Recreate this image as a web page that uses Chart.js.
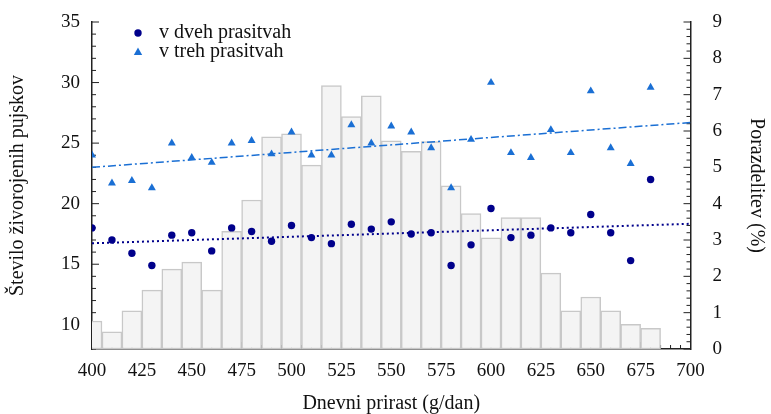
<!DOCTYPE html>
<html>
<head>
<meta charset="utf-8">
<script src="https://cdn.jsdelivr.net/npm/chart.js@4"></script>
<style>
  html, body { margin: 0; padding: 0; background: #fff; }
  #wrap { width: 771px; height: 414px; }
</style>
</head>
<body>
<div id="wrap"><canvas id="mainChart"></canvas></div>
<script>
// daily gain classes (g/dan)
const growth = [400, 410, 420, 430, 440, 450, 460, 470, 480, 490, 500, 510, 520, 530, 540,
                550, 560, 570, 580, 590, 600, 610, 620, 630, 640, 650, 660, 670, 680];

// distribution (%) - right axis
const distribution = [0.77, 0.47, 1.05, 1.62, 2.20, 2.39, 1.62, 3.24, 4.10, 5.84, 5.92, 5.06, 7.25, 6.40, 6.97,
                      5.73, 5.44, 5.71, 4.49, 3.73, 3.06, 3.62, 3.62, 2.09, 1.05, 1.43, 1.05, 0.68, 0.57];

// live born piglets - left axis
const twoParities = [18.0, 17.0, 15.9, 14.9, 17.4, 17.6, 16.1, 18.0, 17.7, 16.9, 18.2, 17.2, 16.7, 18.3, 17.9,
                     18.5, 17.5, 17.6, 14.9, 16.6, 19.6, 17.2, 17.4, 18.0, 17.6, 19.1, 17.6, 15.3, 22.0];
const threeParities = [24.0, 21.7, 21.9, 21.3, 25.0, 23.8, 23.4, 25.0, 25.2, 24.1, 25.9, 24.0, 24.0, 26.5, 25.0,
                       26.4, 25.9, 24.6, 21.3, 25.3, 30.0, 24.2, 23.8, 26.1, 24.2, 29.3, 24.6, 23.3, 29.6];

// trend lines (ends)
const trendX = [400, 700];
const trendTwo = [16.73, 18.34];
const trendThree = [23.0, 26.7];

// tick labels
const xTicks = [400, 425, 450, 475, 500, 525, 550, 575, 600, 625, 650, 675, 700];
const leftTicks = [10, 15, 20, 25, 30, 35];
const rightTicks = [0, 1, 2, 3, 4, 5, 6, 7, 8, 9];

const seriesLabels = ["v dveh prasitvah", "v treh prasitvah"];

const FONT = "'Liberation Serif', 'DejaVu Serif', serif";
const NAVY = "#00008b";
const BLUE = "#1a6fd4";
const AXIS = "#222";
const TEXT = "#111";

const pts = (xs, ys) => xs.map((x, i) => ({ x, y: ys[i] }));

// inward tick marks (drawn under the bars, like the original)
const inwardTicks = {
  id: "inwardTicks",
  beforeDatasetsDraw(chart) {
    const { ctx, chartArea: a, scales } = chart;
    ctx.save();
    ctx.strokeStyle = AXIS;
    ctx.lineWidth = 1;
    ctx.beginPath();
    const draw = (scale, step, majorEvery, fn) => {
      const n = Math.round((scale.max - scale.min) / step);
      for (let i = 0; i <= n; i++) {
        const v = scale.min + i * step;
        const major = Math.abs(v / majorEvery - Math.round(v / majorEvery)) < 1e-6;
        fn(scale.getPixelForValue(v), major ? 7 : 4);
      }
    };
    draw(scales.x, 5, 25, (p, len) => { ctx.moveTo(p, a.bottom); ctx.lineTo(p, a.bottom - len); });
    draw(scales.y, 1, 5, (p, len) => { ctx.moveTo(a.left, p); ctx.lineTo(a.left + len, p); });
    draw(scales.y1, 0.2, 1, (p, len) => { ctx.moveTo(a.right, p); ctx.lineTo(a.right - len, p); });
    ctx.stroke();
    ctx.restore();
  }
};

// legend inside the plot, top left
const innerLegend = {
  id: "innerLegend",
  afterDraw(chart) {
    const { ctx, chartArea: a } = chart;
    ctx.save();
    ctx.font = "20px " + FONT;
    ctx.textBaseline = "middle";
    const mx = a.left + 46, tx = a.left + 67;
    const y1 = a.top + 11, y2 = a.top + 30;
    ctx.fillStyle = NAVY;
    ctx.beginPath();
    ctx.arc(mx, y1, 3.7, 0, Math.PI * 2);
    ctx.fill();
    ctx.fillStyle = BLUE;
    ctx.beginPath();
    ctx.moveTo(mx, y2 - 4.5);
    ctx.lineTo(mx + 4.2, y2 + 3);
    ctx.lineTo(mx - 4.2, y2 + 3);
    ctx.closePath();
    ctx.fill();
    ctx.fillStyle = TEXT;
    ctx.fillText(seriesLabels[0], tx, y1);
    ctx.fillText(seriesLabels[1], tx, y2);
    ctx.restore();
  }
};

// keep the big label gap from pushing the plot top down
const trimPadding = (s) => { s.paddingTop = 10; s.paddingBottom = 10; };

const ctx = document.getElementById("mainChart").getContext("2d");

new Chart(ctx, {
  type: "bar",
  data: {
    datasets: [
      {
        type: "scatter",
        label: seriesLabels[0],
        data: pts(growth, twoParities),
        yAxisID: "y",
        pointStyle: "circle",
        pointRadius: 3.7,
        backgroundColor: NAVY,
        borderColor: NAVY,
        borderWidth: 0,
        order: 1
      },
      {
        type: "scatter",
        label: seriesLabels[1],
        data: pts(growth, threeParities),
        yAxisID: "y",
        pointStyle: "triangle",
        pointRadius: 4.6,
        backgroundColor: BLUE,
        borderColor: BLUE,
        borderWidth: 0,
        order: 1
      },
      {
        type: "line",
        label: "trend 2",
        data: pts(trendX, trendTwo),
        yAxisID: "y",
        borderColor: NAVY,
        borderWidth: 2,
        borderDash: [2, 3],
        pointRadius: 0,
        fill: false,
        order: 2
      },
      {
        type: "line",
        label: "trend 3",
        data: pts(trendX, trendThree),
        yAxisID: "y",
        borderColor: BLUE,
        borderWidth: 1.5,
        borderDash: [8, 3, 2, 3],
        pointRadius: 0,
        fill: false,
        order: 2
      },
      {
        type: "bar",
        label: "Porazdelitev",
        data: pts(growth, distribution),
        yAxisID: "y1",
        backgroundColor: "#f4f4f4",
        borderColor: "#c8c8c8",
        borderWidth: 1.5,
        borderSkipped: false,
        barPercentage: 1,
        categoryPercentage: 1,
        order: 3
      }
    ]
  },
  options: {
    responsive: true,
    maintainAspectRatio: false,
    animation: false,
    layout: { padding: { left: 6, right: 1, top: 22, bottom: 0 } },
    plugins: {
      legend: { display: false },
      tooltip: { enabled: false }
    },
    scales: {
      x: {
        type: "linear",
        min: 400,
        max: 700,
        offset: false,
        afterBuildTicks: (s) => { s.ticks = xTicks.map(v => ({ value: v })); },
        grid: { display: false, drawTicks: false },
        border: { display: true, color: AXIS, width: 1.5 },
        ticks: { font: { size: 19, family: FONT, lineHeight: 1.0 }, color: TEXT, padding: 13, maxRotation: 0 },
        title: { display: true, text: "Dnevni prirast (g/dan)", font: { size: 20, family: FONT, lineHeight: 1.0 }, color: TEXT, padding: { top: 0, bottom: 0 } }
      },
      y: {
        type: "linear",
        position: "left",
        min: 8,
        max: 35,
        afterBuildTicks: (s) => { s.ticks = leftTicks.map(v => ({ value: v })); },
        afterFit: trimPadding,
        grid: { display: false, drawTicks: false },
        border: { display: true, color: AXIS, width: 1.5 },
        ticks: { font: { size: 19, family: FONT }, color: TEXT, padding: 12 },
        title: { display: true, text: "Število živorojenih pujskov", font: { size: 20, family: FONT }, color: TEXT, padding: { top: 0, bottom: 19 } }
      },
      y1: {
        type: "linear",
        position: "right",
        min: 0,
        max: 9,
        afterBuildTicks: (s) => { s.ticks = rightTicks.map(v => ({ value: v })); },
        afterFit: trimPadding,
        grid: { display: false, drawTicks: false },
        border: { display: true, color: AXIS, width: 1.5 },
        ticks: { font: { size: 19, family: FONT }, color: TEXT, padding: 22 },
        title: { display: true, text: "Porazdelitev (%)", font: { size: 20, family: FONT }, color: TEXT, padding: { top: 2, bottom: 0 } }
      }
    }
  },
  plugins: [inwardTicks, innerLegend]
});
</script>
</body>
</html>
